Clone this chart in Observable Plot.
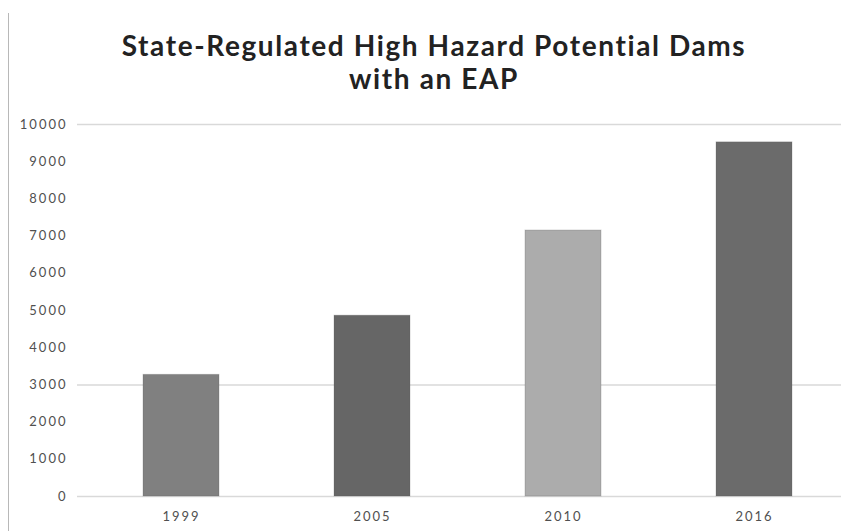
<!DOCTYPE html>
<html>
<head>
<meta charset="utf-8">
<script src="https://cdn.jsdelivr.net/npm/d3@7"></script>
<script src="https://cdn.jsdelivr.net/npm/@observablehq/plot@0.6"></script>
<style>
  html, body { margin: 0; padding: 0; background: #fff; }
  #wrap { position: relative; width: 841px; height: 531px; overflow: hidden; }
  #border { position: absolute; left: 8px; top: 13px; bottom: 0; border-left: 1px solid #b8b8b8; z-index: 5; }
  #title { position: absolute; left: 0; top: 29px; width: 868px; text-align: center;
           font-family: Lato, "Open Sans", sans-serif; font-weight: 700; font-size: 28px;
           letter-spacing: 1.6px; line-height: 33px; color: #222; }
  #chart { position: absolute; left: 0; top: 100px; }
</style>
</head>
<body>
<div id="wrap">
  <div id="border"></div>
  <div id="title">State-Regulated High Hazard Potential Dams<br>with an EAP</div>
  <div id="chart"></div>
</div>
<script>
const years = ["1999", "2005", "2010", "2016"];
const dams = [3270, 4860, 7150, 9520];
const barColors = ["#808080", "#666666", "#acacac", "#6b6b6b"];
const yTicks = [0, 1000, 2000, 3000, 4000, 5000, 6000, 7000, 8000, 9000, 10000];
const gridTicks = [0, 3000, 10000];

const data = years.map((y, i) => ({year: y, value: dams[i], color: barColors[i]}));

const plot = Plot.plot({
  width: 841,
  height: 431,
  marginTop: 24,
  marginBottom: 35,
  marginLeft: 77,
  marginRight: 0,
  style: {fontFamily: "Lato, 'Open Sans', sans-serif", fontSize: "13px", color: "#505050", background: "white", letterSpacing: "2px"},
  x: {domain: years, range: [84, 851], paddingInner: 0.6, paddingOuter: 0.3, label: null, tickSize: 0, tickPadding: 15},
  y: {domain: [0, 10000], label: null, ticks: yTicks, tickSize: 0, tickPadding: 10, tickFormat: d => String(d)},
  marks: [
    Plot.ruleY(gridTicks, {stroke: "#d9d9d9", strokeWidth: 1.5}),
    Plot.barY(data, {x: "year", y: "value", fill: "color", stroke: "#5a5a5a", strokeOpacity: 0.25})
  ]
});
document.getElementById("chart").appendChild(plot);
</script>
</body>
</html>
